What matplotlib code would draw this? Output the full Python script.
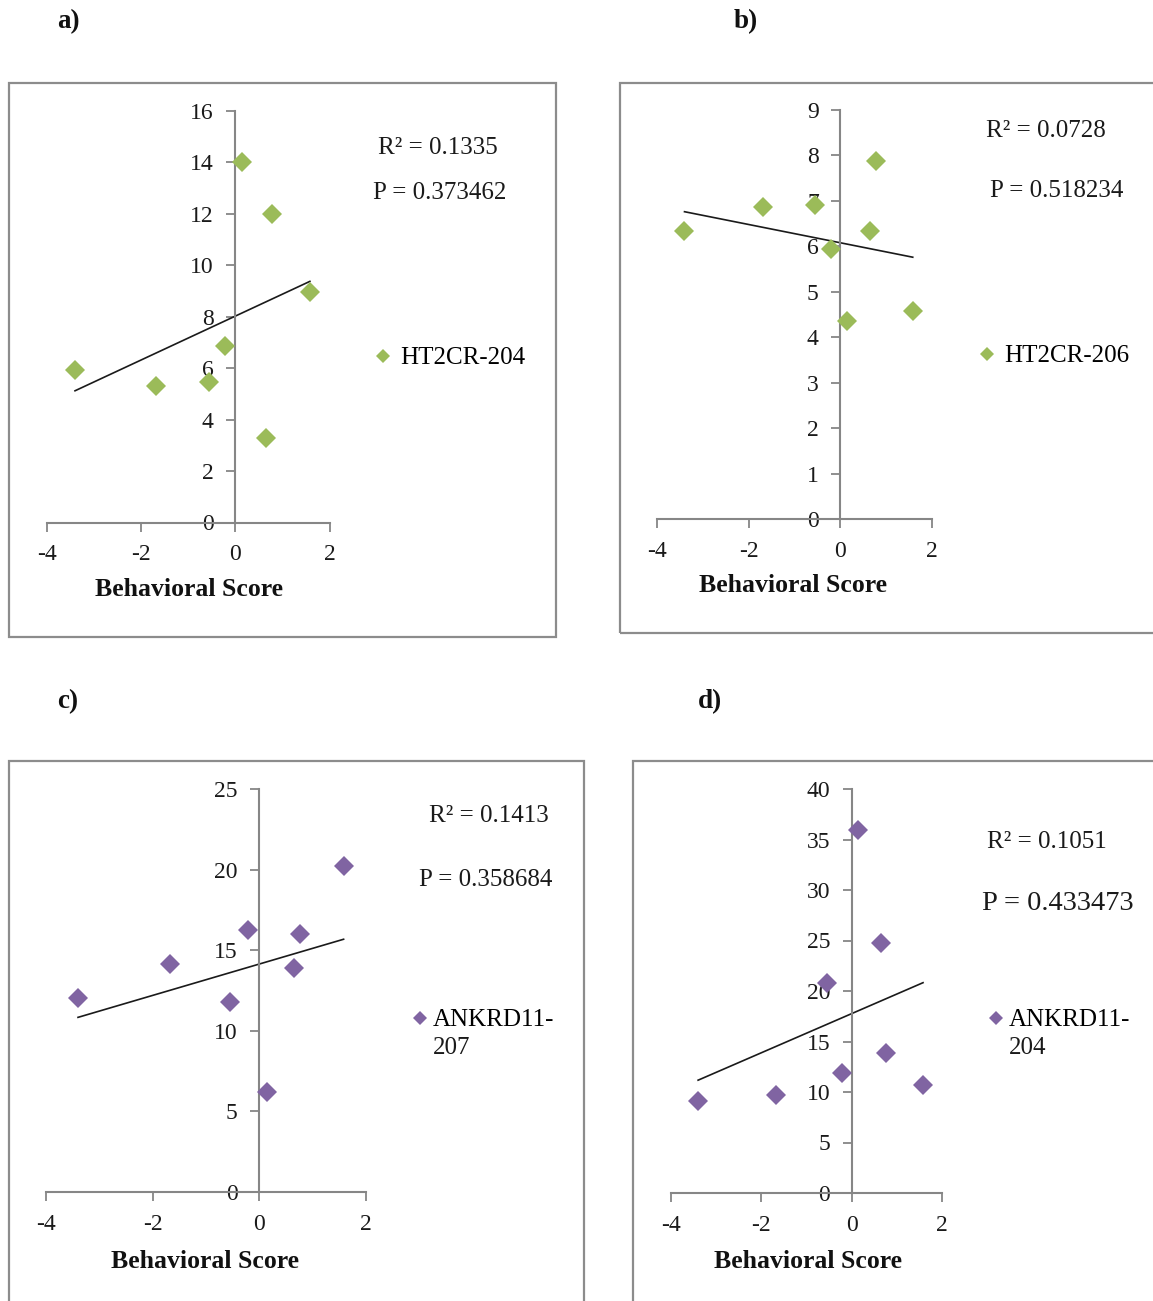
import numpy as np
import matplotlib
matplotlib.use("Agg")
import matplotlib.pyplot as plt
from matplotlib.patches import Rectangle

plt.rcParams['font.family'] = ['Liberation Serif', 'DejaVu Serif']
plt.rcParams['axes.unicode_minus'] = False

# ---------------- data ----------------
behavioral_score = [-3.4, -1.68, -0.55, -0.21, 0.14, 0.65, 0.77, 1.58]

ht2cr_204 = [5.94, 5.32, 5.48, 6.87, 14.02, 3.3, 12.0, 8.97]
ht2cr_206 = [6.33, 6.86, 6.91, 5.94, 4.35, 6.33, 7.88, 4.57]
ankrd11_207 = [12.03, 14.14, 11.79, 16.25, 6.2, 13.9, 16.0, 20.2]
ankrd11_204 = [9.13, 9.72, 20.8, 11.9, 35.9, 24.8, 13.9, 10.7]

panel_letters = ['a)', 'b)', 'c)', 'd)']
series_names = ['HT2CR-204', 'HT2CR-206', 'ANKRD11-207', 'ANKRD11-204']
r2_texts = ['R² = 0.1335', 'R² = 0.0728', 'R² = 0.1413', 'R² = 0.1051']
p_texts = ['P = 0.373462', 'P = 0.518234', 'P = 0.358684', 'P = 0.433473']
y_maxes = [16, 9, 25, 40]
y_steps = [2, 1, 5, 5]
x_ticks = [-4, -2, 0, 2]
x_label = 'Behavioral Score'

GREEN = '#9BBB59'
PURPLE = '#8064A2'
AXGRAY = '#868686'
TXT = '#1a1a1a'

W, H = 1153, 1301
fig = plt.figure(figsize=(W / 100, H / 100), dpi=100)


def fx(px):
    return px / W


def fy(py):
    return 1 - py / H


# layout (pixel geometry)
panels = [
    dict(data=ht2cr_204, color=GREEN, ax=(46.7, 329.7, 522.5, 111),
         box=(8.5, 83, 555.5, 637), letter=(68, 22),
         r2=(437.5, 148, 18), p=(440, 193, 18), leg=(383, 358, 0.8, 0.3),
         xl=(189, 590), wrap=None),
    dict(data=ht2cr_206, color=GREEN, ax=(657, 932, 519, 110),
         box=(619.5, 83, 1160, 633), letter=(746, 22),
         r2=(1045.5, 131, 18), p=(1056.5, 191, 18), leg=(987, 356, 0.8, 0.3),
         xl=(793, 586), wrap=None),
    dict(data=ankrd11_207, color=PURPLE, ax=(46, 366, 1192, 789),
         box=(8.5, 761, 584, 1310), letter=(68, 702),
         r2=(489, 816, 18), p=(486, 880, 18), leg=(420, 1020, 0.6, 0.2),
         xl=(205, 1261), wrap=8),
    dict(data=ankrd11_204, color=PURPLE, ax=(671, 942, 1193, 789),
         box=(633, 761, 1160, 1310), letter=(710, 702),
         r2=(1047, 842, 18), p=(1058, 903, 20.5), leg=(996, 1020, 0.6, 0.2),
         xl=(808, 1261), wrap=8),
]

LEG_FS = 18
fs_px = LEG_FS * 100 / 72

for i, pn in enumerate(panels):
    x0, x1, y0, y1 = pn['ax']
    ax = fig.add_axes([fx(x0), fy(y0), fx(x1) - fx(x0), fy(y1) - fy(y0)])
    ax.patch.set_alpha(0)
    ymax = y_maxes[i]
    ax.set_xlim(-4, 2)
    ax.set_ylim(0, ymax)

    name = series_names[i]
    first, rest = (name, '') if pn['wrap'] is None else (name[:pn['wrap']], name[pn['wrap']:])

    xs = np.array(behavioral_score)
    ys = np.array(pn['data'])
    ax.plot(xs, ys, linestyle='none', marker='D', markersize=10.5,
            color=pn['color'], markeredgewidth=0, clip_on=False, zorder=3,
            label=first)
    k, b = np.polyfit(xs, ys, 1)
    xl = np.array([xs.min(), xs.max()])
    ax.plot(xl, k * xl + b, color=TXT, lw=1.2, zorder=2)

    for s in ['top', 'right']:
        ax.spines[s].set_visible(False)
    ax.spines['left'].set_position(('data', 0))
    for s in ['left', 'bottom']:
        ax.spines[s].set_color(AXGRAY)
        ax.spines[s].set_linewidth(1.5)
    ax.set_xticks(x_ticks)
    ax.set_yticks(np.arange(0, ymax + 0.01, y_steps[i]))
    ax.tick_params(axis='both', direction='out', length=6.5, width=1.3,
                   color=AXGRAY, labelsize=17, labelcolor=TXT)
    ax.tick_params(axis='y', pad=9)
    ax.tick_params(axis='x', pad=9)

    lx, ly, hl, tp = pn['leg']
    left_px = lx - hl * fs_px / 2
    ax.legend(loc='center left', frameon=False, fontsize=LEG_FS,
              handlelength=hl, handletextpad=tp, borderpad=0,
              borderaxespad=0, markerscale=0.7,
              bbox_to_anchor=(fx(left_px), fy(ly)),
              bbox_transform=fig.transFigure)
    if rest:
        text_x = left_px + hl * fs_px + tp * fs_px
        fig.text(fx(text_x), fy(ly + 28), rest, ha='left', va='center',
                 fontsize=LEG_FS, color=TXT)

    # stats text
    rx, ry, rfs = pn['r2']
    fig.text(fx(rx), fy(ry), r2_texts[i], ha='center', va='center',
             fontsize=rfs, color=TXT)
    px_, py_, pfs = pn['p']
    fig.text(fx(px_), fy(py_), p_texts[i], ha='center', va='center',
             fontsize=pfs, color=TXT)
    # axis title
    tx, ty = pn['xl']
    fig.text(fx(tx), fy(ty), x_label, ha='center', va='center',
             fontsize=18.5, fontweight='bold', color='#111111')
    # panel letter
    ltx, lty = pn['letter']
    fig.text(fx(ltx), fy(lty), panel_letters[i], ha='center', va='center',
             fontsize=19.5, fontweight='bold', color='#111111')
    # chart box
    bx0, by0, bx1, by1 = pn['box']
    fig.add_artist(Rectangle((fx(bx0), fy(by1)), fx(bx1) - fx(bx0),
                             fy(by0) - fy(by1), transform=fig.transFigure,
                             fill=False, edgecolor='#8c8c8c', lw=1.6))

fig.savefig('out.png', dpi=100)
